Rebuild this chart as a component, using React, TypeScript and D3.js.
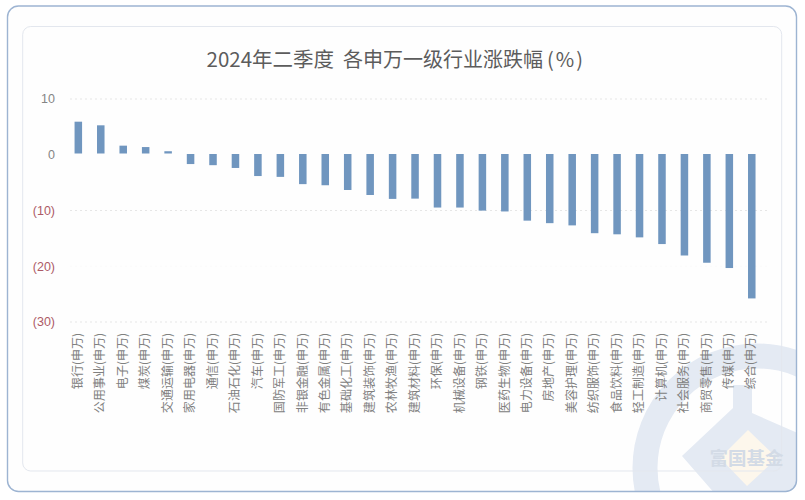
import React from "react";
import * as d3 from "d3";

const categories = ["银行","公用事业","电子","煤炭","交通运输","家用电器","通信","石油石化","汽车","国防军工","非银金融","有色金属","基础化工","建筑装饰","农林牧渔","建筑材料","环保","机械设备","钢铁","医药生物","电力设备","房地产","美容护理","纺织服饰","食品饮料","轻工制造","计算机","社会服务","商贸零售","传媒","综合"];
const values = [5.93,5.28,1.63,1.38,0.63,-1.67,-1.87,-2.37,-3.82,-3.97,-5.27,-5.47,-6.32,-7.22,-7.92,-7.87,-9.47,-9.47,-10.02,-10.17,-11.82,-12.27,-12.67,-14.07,-14.27,-14.82,-16.02,-18.07,-19.37,-20.32,-25.77];
const yTicks = [10,0,-10,-20,-30];
const titleMain = "2024年二季度";
const titleRest = "各申万一级行业涨跌幅";
const titleUnit = "(%)";
const suffix = "(申万)";
const brand = "富国基金";

const FONT = "'Noto Sans CJK SC','Noto Sans',sans-serif";

export default function App() {
  const x = d3.scaleBand<string>().domain(categories).range([67.1, 763]).paddingInner(0.665).paddingOuter(0.3325);
  const y = d3.scaleLinear().domain([10, -30]).range([99, 322]);
  const fmt = (t: number) => (t < 0 ? `(${-t})` : `${t}`);
  return (
    <svg width={805} height={500} style={{ position: "absolute", left: 0, top: 0, background: "#fff" }} fontFamily={FONT}>
      <defs>
        <clipPath id="frame"><rect x={7.5} y={6} width={789} height={485.5} rx={11} /></clipPath>
      </defs>
      <rect x={7.5} y={6} width={789} height={485.5} rx={11} fill="#fefefe" />
      <g clipPath="url(#frame)">
        <circle cx={757} cy={468} r={112} fill="none" stroke="#e4eaf3" strokeWidth={25} />
        <path d="M733,385 L752,385 L752,413 L800,434 L800,495 L716,495 L682,456 L733,408 Z" fill="#e4eaf3" />
        <path d="M748,430 L777,458 L747,486 L720,458 Z" fill="#fdf7ec" />
      </g>
      <rect x={22.7} y={26.5} width={759} height={444.5} rx={8} fill="none" stroke="#e3e7ee" strokeWidth={1} />
      <rect x={7.5} y={6} width={789} height={485.5} rx={11} fill="none" stroke="#9db4d2" strokeWidth={1.4} />
      <text x={746.5} y={464.5} textAnchor="middle" fontSize={18.5} fontWeight={700} fill="#d3dbe6">{brand}</text>
      <text y={67} fill="#5c5c5c">
        <tspan x={206.5} fontSize={20.5}>{titleMain}</tspan>
        <tspan x={343} fontSize={20}>{titleRest}</tspan>
        <tspan x={547} fontSize={20} letterSpacing={2}>{titleUnit}</tspan>
      </text>
      {yTicks.map((t) => (
        <g key={t}>
          {t !== 0 && <line x1={70} x2={767} y1={y(t)} y2={y(t)} stroke={t === -20 ? "#fafafa" : "#e6e6e6"} strokeWidth={1} strokeDasharray="2 3" />}
          <text x={55} y={y(t)} dy="0.35em" textAnchor="end" fontSize={12.5} fontFamily="'Liberation Sans',sans-serif" fill={t < 0 ? "#ad5a66" : "#858585"}>{fmt(t)}</text>
        </g>
      ))}
      {categories.map((c, i) => {
        const v = values[i];
        const top = v > 0 ? y(v) : y(0) - 0.75;
        const bottom = v > 0 ? y(0) - 1.25 : y(v);
        return <rect key={c} x={x(c)} y={top} width={x.bandwidth()} height={bottom - top} fill="#7096bf" />;
      })}
      {categories.map((c) => {
        const cx = (x(c) as number) + x.bandwidth() / 2;
        return (
          <text key={c} transform={`translate(${cx + 3.7},333) rotate(-90)`} textAnchor="end" fontSize={12} fill="#808080">{c + suffix}</text>
        );
      })}
    </svg>
  );
}
